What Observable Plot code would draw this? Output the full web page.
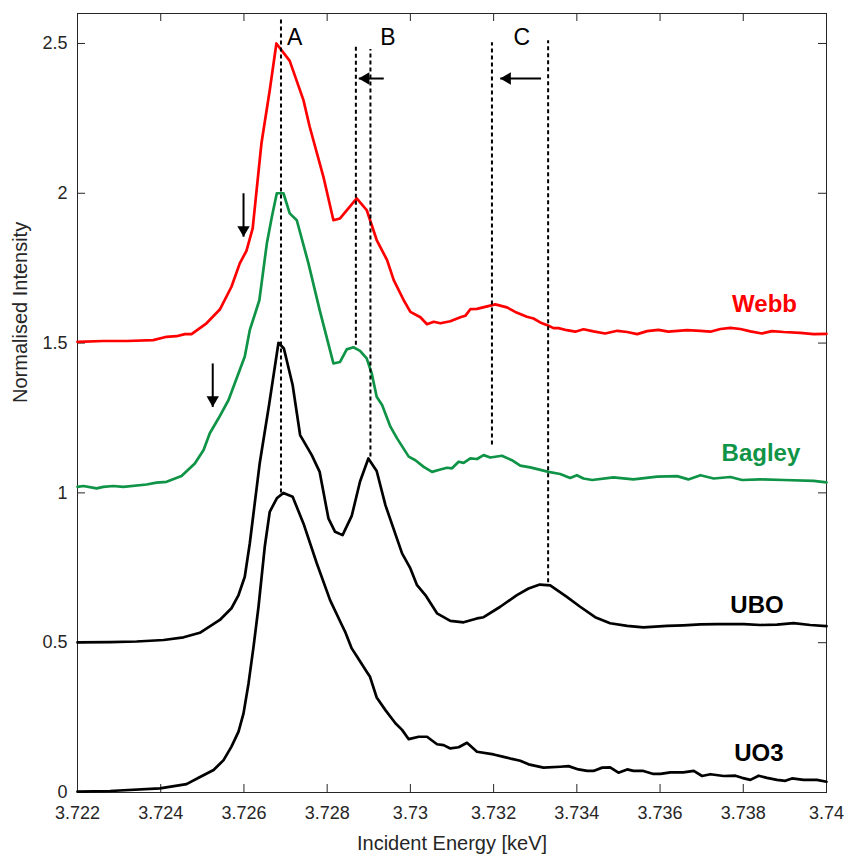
<!DOCTYPE html>
<html>
<head>
<meta charset="utf-8">
<script src="https://cdn.jsdelivr.net/npm/d3@7"></script>
<script src="https://cdn.jsdelivr.net/npm/@observablehq/plot@0.6"></script>
<style>
  html, body { margin: 0; padding: 0; background: #fff; }
  #chart { width: 846px; height: 858px; }
</style>
</head>
<body>
<div id="chart"></div>
<script>
// Axis ticks
const energyTicks = [3.722, 3.724, 3.726, 3.728, 3.73, 3.732, 3.734, 3.736, 3.738, 3.74];
const energyTickLabels = ["3.722", "3.724", "3.726", "3.728", "3.73", "3.732", "3.734", "3.736", "3.738", "3.74"];
const intensityTicks = [0, 0.5, 1, 1.5, 2, 2.5];
const intensityTickLabels = ["0", "0.5", "1", "1.5", "2", "2.5"];

// Spectra: [incident energy (keV), normalised intensity], each offset by 0.5
const webb = [
  [3.72200,1.504],[3.72262,1.507],[3.72318,1.507],[3.72382,1.510],[3.72414,1.521],[3.72438,1.523],
  [3.72458,1.530],[3.72474,1.530],[3.72510,1.566],[3.72542,1.612],[3.72570,1.688],[3.72590,1.766],
  [3.72606,1.808],[3.72621,1.883],[3.72642,2.166],[3.72662,2.344],[3.72678,2.500],[3.72710,2.442],
  [3.72743,2.311],[3.72758,2.222],[3.72791,2.055],[3.72815,1.910],[3.72831,1.916],[3.72871,1.983],
  [3.72895,1.944],[3.72919,1.844],[3.72944,1.777],[3.72960,1.710],[3.72984,1.643],[3.73000,1.604],
  [3.73024,1.586],[3.73040,1.563],[3.73056,1.571],[3.73072,1.566],[3.73096,1.573],[3.73120,1.586],
  [3.73132,1.591],[3.73144,1.613],[3.73160,1.614],[3.73204,1.629],[3.73232,1.619],[3.73252,1.604],
  [3.73280,1.588],[3.73296,1.582],[3.73312,1.569],[3.73332,1.558],[3.73344,1.550],[3.73356,1.550],
  [3.73376,1.543],[3.73396,1.538],[3.73416,1.546],[3.73440,1.539],[3.73468,1.532],[3.73497,1.541],
  [3.73521,1.537],[3.73545,1.530],[3.73569,1.540],[3.73596,1.544],[3.73620,1.538],[3.73665,1.543],
  [3.73697,1.541],[3.73721,1.538],[3.73745,1.547],[3.73769,1.551],[3.73793,1.547],[3.73817,1.539],
  [3.73845,1.532],[3.73869,1.540],[3.73897,1.537],[3.73937,1.534],[3.73969,1.530],[3.74000,1.531]
];
const bagley = [
  [3.72200,1.020],[3.72214,1.023],[3.72246,1.015],[3.72262,1.020],[3.72286,1.023],[3.72310,1.020],
  [3.72366,1.028],[3.72390,1.034],[3.72414,1.037],[3.72450,1.056],[3.72482,1.098],[3.72503,1.143],
  [3.72518,1.199],[3.72539,1.249],[3.72563,1.310],[3.72587,1.399],[3.72602,1.455],[3.72614,1.543],
  [3.72637,1.643],[3.72655,1.832],[3.72667,1.921],[3.72679,2.000],[3.72695,2.000],[3.72710,1.933],
  [3.72727,1.910],[3.72755,1.766],[3.72782,1.610],[3.72815,1.432],[3.72831,1.437],[3.72847,1.479],
  [3.72863,1.486],[3.72879,1.474],[3.72895,1.449],[3.72907,1.399],[3.72919,1.321],[3.72932,1.293],
  [3.72952,1.221],[3.72968,1.182],[3.72996,1.121],[3.73012,1.109],[3.73032,1.087],[3.73052,1.070],
  [3.73072,1.078],[3.73088,1.084],[3.73100,1.082],[3.73116,1.104],[3.73128,1.100],[3.73144,1.115],
  [3.73160,1.113],[3.73176,1.126],[3.73192,1.118],[3.73220,1.124],[3.73244,1.109],[3.73264,1.091],
  [3.73288,1.085],[3.73332,1.070],[3.73360,1.063],[3.73384,1.050],[3.73400,1.059],[3.73416,1.048],
  [3.73437,1.043],[3.73488,1.052],[3.73536,1.045],[3.73593,1.054],[3.73641,1.056],[3.73668,1.045],
  [3.73697,1.059],[3.73729,1.048],[3.73769,1.053],[3.73797,1.043],[3.73841,1.045],[3.73897,1.043],
  [3.73969,1.040],[3.74000,1.035]
];
const ubo = [
  [3.72200,0.501],[3.72278,0.502],[3.72342,0.504],[3.72407,0.509],[3.72455,0.518],[3.72494,0.533],
  [3.72542,0.576],[3.72570,0.615],[3.72587,0.659],[3.72602,0.720],[3.72614,0.831],[3.72623,0.932],
  [3.72638,1.100],[3.72661,1.299],[3.72683,1.501],[3.72696,1.482],[3.72717,1.360],[3.72735,1.193],
  [3.72763,1.126],[3.72782,1.070],[3.72803,0.915],[3.72819,0.870],[3.72837,0.859],[3.72859,0.923],
  [3.72879,1.038],[3.72899,1.115],[3.72919,1.073],[3.72940,0.959],[3.72980,0.798],[3.73000,0.748],
  [3.73016,0.692],[3.73036,0.659],[3.73064,0.598],[3.73096,0.573],[3.73128,0.568],[3.73160,0.581],
  [3.73176,0.585],[3.73216,0.620],[3.73256,0.659],[3.73284,0.681],[3.73311,0.694],[3.73336,0.691],
  [3.73376,0.653],[3.73408,0.620],[3.73444,0.585],[3.73480,0.565],[3.73521,0.556],[3.73560,0.551],
  [3.73617,0.556],[3.73656,0.558],[3.73697,0.561],[3.73737,0.562],[3.73801,0.562],[3.73841,0.559],
  [3.73881,0.560],[3.73921,0.565],[3.73961,0.559],[3.74000,0.555]
];
const uo3 = [
  [3.72200,0.003],[3.72278,0.005],[3.72398,0.014],[3.72462,0.028],[3.72491,0.049],[3.72527,0.075],
  [3.72551,0.108],[3.72570,0.153],[3.72587,0.203],[3.72599,0.264],[3.72611,0.364],[3.72623,0.486],
  [3.72635,0.620],[3.72650,0.820],[3.72662,0.937],[3.72679,0.982],[3.72695,1.000],[3.72717,0.987],
  [3.72743,0.898],[3.72775,0.765],[3.72807,0.642],[3.72835,0.560],[3.72843,0.537],[3.72859,0.481],
  [3.72872,0.453],[3.72895,0.403],[3.72903,0.386],[3.72919,0.317],[3.72940,0.275],[3.72964,0.231],
  [3.72980,0.209],[3.72996,0.178],[3.73020,0.186],[3.73040,0.186],[3.73064,0.161],[3.73080,0.158],
  [3.73096,0.147],[3.73116,0.151],[3.73136,0.166],[3.73160,0.136],[3.73200,0.127],[3.73224,0.119],
  [3.73244,0.112],[3.73264,0.106],[3.73284,0.094],[3.73320,0.083],[3.73360,0.086],[3.73380,0.088],
  [3.73404,0.077],[3.73425,0.072],[3.73440,0.072],[3.73461,0.083],[3.73480,0.084],[3.73500,0.066],
  [3.73521,0.077],[3.73536,0.072],[3.73560,0.072],[3.73584,0.062],[3.73601,0.062],[3.73625,0.067],
  [3.73656,0.067],[3.73681,0.072],[3.73701,0.055],[3.73721,0.061],[3.73753,0.055],[3.73781,0.056],
  [3.73797,0.049],[3.73817,0.042],[3.73837,0.056],[3.73857,0.049],[3.73881,0.042],[3.73901,0.039],
  [3.73917,0.047],[3.73945,0.042],[3.73977,0.042],[3.74000,0.036]
];

const seriesNames = ["Webb", "Bagley", "UBO", "UO3"];
const seriesColors = ["#ff0000", "#0f9447", "#000000", "#000000"];
const seriesData = [webb, bagley, ubo, uo3];
// Where each series name is written (energy of right edge, intensity)
const seriesLabelAt = [[3.73929, 1.630], [3.73937, 1.132], [3.73897, 0.626], [3.73897, 0.131]];

// Peak positions A, B, C (dotted guides) and their shifts
const peakLines = [
  {energy: 3.72689, from: 1.000, to: 2.578},
  {energy: 3.72869, from: 1.493, to: 2.494},
  {energy: 3.72904, from: 1.120, to: 2.480},
  {energy: 3.73196, from: 1.160, to: 2.502},
  {energy: 3.73331, from: 0.700, to: 2.509}
];
const peakNames = ["A", "B", "C"];
const peakNameAt = [[3.72722, 2.521], [3.72946, 2.521], [3.73268, 2.521]];

// Shift arrows: start -> tip
const downArrows = [
  {e1: 3.72599, i1: 2.000, e2: 3.72599, i2: 1.855},
  {e1: 3.72525, i1: 1.432, e2: 3.72525, i2: 1.287}
];
const leftArrows = [
  {e1: 3.72936, i1: 2.383, e2: 3.72876, i2: 2.383},
  {e1: 3.73314, i1: 2.383, e2: 3.73216, i2: 2.383}
];

const rows = seriesData.flatMap((s, k) => s.map(([e, v]) => ({energy: e, intensity: v, series: seriesNames[k]})));
const labels = seriesNames.map((name, k) => ({name, color: seriesColors[k], energy: seriesLabelAt[k][0], intensity: seriesLabelAt[k][1]}));
const peakLabels = peakNames.map((name, k) => ({name, energy: peakNameAt[k][0], intensity: peakNameAt[k][1]}));

const W = 846, H = 858, mL = 77, mR = 20, mT = 13, mB = 66;
const innerH = H - mT - mB, innerW = W - mL - mR, tick = 8;
const axisColor = "#262626";
const font = "'Liberation Sans', Arial, Helvetica, sans-serif";

const chart = Plot.plot({
  width: W,
  height: H,
  marginLeft: mL,
  marginRight: mR,
  marginTop: mT,
  marginBottom: mB,
  x: {domain: [3.722, 3.74]},
  y: {domain: [0, 2.6]},
  color: {domain: seriesNames, range: seriesColors},
  style: {fontFamily: font, fontSize: "18px", background: "#fff", color: axisColor, overflow: "visible"},
  marks: [
    // inward ticks on all four sides
    Plot.ruleX(energyTicks, {x: d => d, insetTop: innerH - tick, stroke: axisColor}),
    Plot.ruleX(energyTicks, {x: d => d, insetBottom: innerH - tick, stroke: axisColor}),
    Plot.ruleY(intensityTicks, {y: d => d, insetRight: innerW - tick, stroke: axisColor}),
    Plot.ruleY(intensityTicks, {y: d => d, insetLeft: innerW - tick, stroke: axisColor}),
    Plot.axisX(energyTicks, {tickSize: 0, tickPadding: 14, label: null, fontSize: 18,
      tickFormat: d => energyTickLabels[energyTicks.indexOf(d)]}),
    Plot.axisY(intensityTicks, {tickSize: 0, tickPadding: 10, label: null, fontSize: 18,
      tickFormat: d => intensityTickLabels[intensityTicks.indexOf(d)]}),
    Plot.frame({stroke: axisColor, strokeWidth: 1}),
    Plot.text(["Incident Energy [keV]"], {frameAnchor: "bottom", dy: 51, lineAnchor: "middle", fontSize: 20, fill: axisColor}),
    Plot.text(["Normalised Intensity"], {frameAnchor: "left", dx: -57, rotate: -90, lineAnchor: "middle", fontSize: 20, fill: axisColor}),

    // spectra
    Plot.line(rows, {x: "energy", y: "intensity", z: "series", stroke: "series", strokeWidth: 2.7, strokeLinejoin: "round"}),

    // dotted peak guides
    Plot.ruleX(peakLines, {x: "energy", y1: "from", y2: "to", stroke: "#000", strokeWidth: 2, strokeDasharray: "4,3"}),
    Plot.text(peakLabels, {x: "energy", y: "intensity", text: "name", fontSize: 23, fill: "#000", lineAnchor: "middle"}),

    // arrows
    Plot.link(downArrows, {x1: "e1", y1: "i1", x2: "e2", y2: "i2", stroke: "#000", strokeWidth: 2}),
    Plot.dot(downArrows, {x: "e2", y: "i2", symbol: "triangle", r: 4.6, fill: "#000", stroke: "none", rotate: 180, dy: -7}),
    Plot.link(leftArrows, {x1: "e1", y1: "i1", x2: "e2", y2: "i2", stroke: "#000", strokeWidth: 2}),
    Plot.dot(leftArrows, {x: "e2", y: "i2", symbol: "triangle", r: 4.6, fill: "#000", stroke: "none", rotate: -90, dx: 7}),

    // series names
    Plot.text(labels, {x: "energy", y: "intensity", text: "name", fill: "color", textAnchor: "end", lineAnchor: "middle", fontSize: 24, fontWeight: "bold"})
  ]
});

document.getElementById("chart").appendChild(chart);
</script>
</body>
</html>
